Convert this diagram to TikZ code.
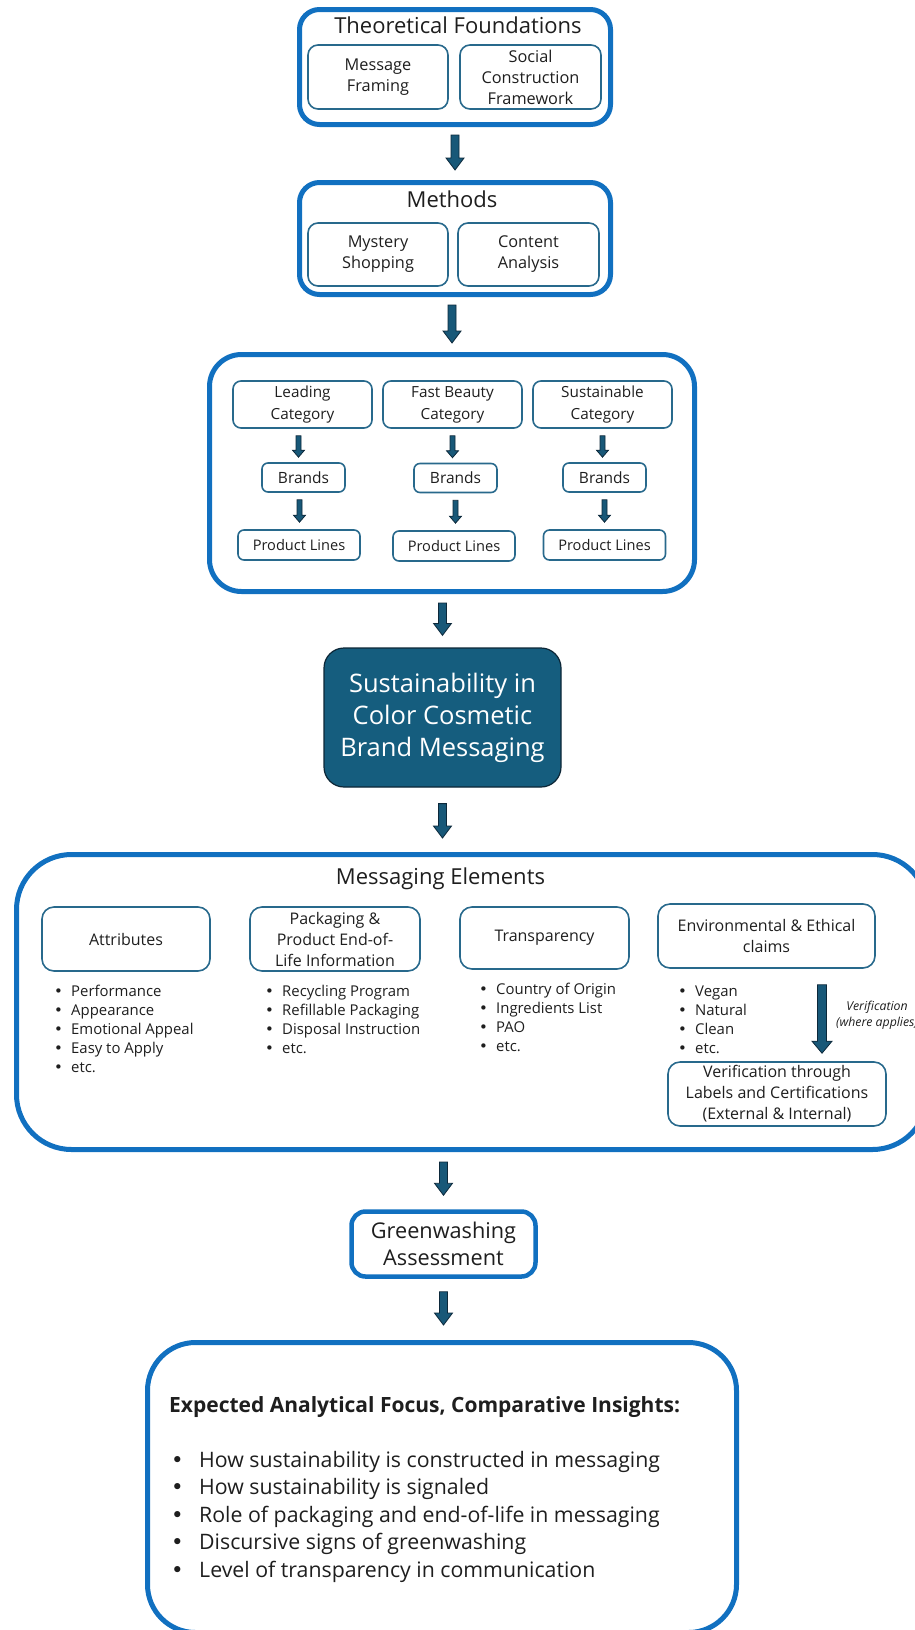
\documentclass[tikz,border=0pt]{standalone}
\usepackage{fontspec}
\setmainfont{Open Sans}
\newfontfamily\dotfont{DejaVu Sans}
\usetikzlibrary{calc}

\definecolor{outerblue}{RGB}{17,112,192}
\definecolor{innerteal}{RGB}{40,105,140}
\definecolor{darkfill}{RGB}{21,93,126}
\definecolor{darkedge}{RGB}{12,38,54}
\definecolor{arrowfill}{RGB}{24,88,120}
\definecolor{arrowedge}{RGB}{12,40,58}
\definecolor{textgray}{RGB}{30,30,30}

% bullet item with a fixed indent
\newcommand{\itm}[2][17pt]{\makebox[#1][l]{\dotfont •}#2}

\tikzset{
  boxsize/.style 2 args={minimum width=#1pt, minimum height=#2pt},
  outerbox/.style={draw=outerblue, line width=5pt, rounded corners=20pt, inner sep=0pt},
  innerbox/.style={draw=innerteal, line width=1.6pt, rounded corners=10pt, inner sep=1pt,
    align=center, font=\fontsize{16.3}{21}\selectfont},
  catbox/.style={innerbox, boxsize={139}{47}, rounded corners=8pt, font=\fontsize{15.3}{22}\selectfont},
  brandbox/.style={innerbox, boxsize={83}{29}, rounded corners=6pt, font=\fontsize{15.5}{19}\selectfont},
  linebox/.style={innerbox, boxsize={122}{30}, rounded corners=6pt, font=\fontsize{14.6}{18}\selectfont},
  elembox/.style={innerbox, rounded corners=12pt, font=\fontsize{16}{21}\selectfont},
  darkbox/.style={draw=darkedge, fill=darkfill, line width=1.2pt, rounded corners=20pt,
    text=white, align=center, font=\fontsize{25.5}{32}\selectfont},
  titletext/.style={anchor=base, inner sep=0pt, font=\fontsize{22}{25}\selectfont},
  bulletlist/.style={anchor=base west, inner sep=0pt, font=\fontsize{14.9}{19}\selectfont},
  vnote/.style={align=center, inner sep=0pt, font=\fontsize{12.3}{16}\selectfont\itshape},
  % block arrow pointing down: shaft half width, head half width, head length
  blockarrow/.style n args={3}{draw=arrowedge, fill=arrowfill, line width=0.8pt,
    to path={let \p1=(\tikztostart), \p2=(\tikztotarget) in
      (\x1-#1,\y1) -- (\x1+#1,\y1) -- (\x1+#1,\y2+#3) -- (\x1+#2,\y2+#3)
      -- (\x1,\y2) -- (\x1-#2,\y2+#3) -- (\x1-#1,\y2+#3) -- cycle}},
  bigarrow/.style={blockarrow={4pt}{9pt}{12pt}},
  smallarrow/.style={blockarrow={2.5pt}{6pt}{7pt}}
}

\begin{document}
\begin{tikzpicture}[x=1pt, y=-1pt, text=textgray]
\useasboundingbox (0,0) rectangle (915,1630);

% theoretical foundations
\node[outerbox, boxsize={311}{115}] (tf) at (455,67) {};
\node[titletext] (tftitle) at (458,33) {Theoretical Foundations};
\node[innerbox, boxsize={140}{64}] (mf) at (378,77) {Message\\Framing};
\node[innerbox, boxsize={141}{64}] (scf) at (530.5,77) {Social\\Construction\\Framework};

% methods
\node[outerbox, boxsize={311}{112}] (meth) at (455,238.5) {};
\node[titletext] (methtitle) at (452,207) {Methods};
\node[innerbox, boxsize={140}{63}] (ms) at (378,254.5) {Mystery\\Shopping};
\node[innerbox, boxsize={141}{63}] (ca) at (528.5,254.5) {Content\\Analysis};

% brand categories
\node[outerbox, rounded corners=32pt, boxsize={485}{237}] (cat) at (452,473) {};
\node[catbox] (lc) at (302.5,404.5) {Leading\\Category};
\node[catbox] (fb) at (452.5,404.5) {Fast Beauty\\Category};
\node[catbox] (sc) at (602.5,404.5) {Sustainable\\Category};
\node[brandbox] (br1) at (303.5,477.5) {Brands};
\node[brandbox] (br2) at (455.5,478) {Brands};
\node[brandbox] (br3) at (604.5,477.5) {Brands};
\node[linebox] (pl1) at (299,545) {Product Lines};
\node[linebox] (pl2) at (454,546) {Product Lines};
\node[linebox] (pl3) at (604.5,545) {Product Lines};

% central topic
\node[darkbox, boxsize={237}{139}] (sus) at (442.5,717.5) {Sustainability in\\Color Cosmetic\\Brand Messaging};

% messaging elements
\node[outerbox, rounded corners=55pt, boxsize={911}{295}] (me) at (472,1002) {};
\node[titletext] (metitle) at (440.5,884) {Messaging Elements};
\node[elembox, boxsize={168}{64}] (att) at (126,939) {Attributes};
\node[elembox, boxsize={170}{64}] (pkg) at (335,939) {Packaging \&\\Product End-of-\\Life Information};
\node[elembox, boxsize={169}{62}] (trn) at (544.5,938) {Transparency};
\node[elembox, boxsize={217}{64}] (env) at (766.5,936) {Environmental \& Ethical\\claims};
\node[elembox, boxsize={218}{64}] (ver) at (777,1094) {Verification through\\Labels and Certifications\\(External \& Internal)};

\node[bulletlist] (attlist) at (54,996) {\begin{tabular}[t]{@{}l@{}}
  \itm{Performance}\\ \itm{Appearance}\\ \itm{Emotional Appeal}\\ \itm{Easy to Apply}\\ \itm{etc.}
  \end{tabular}};
\node[bulletlist] (pkglist) at (265,996) {\begin{tabular}[t]{@{}l@{}}
  \itm{Recycling Program}\\ \itm{Refillable Packaging}\\ \itm{Disposal Instruction}\\ \itm{etc.}
  \end{tabular}};
\node[bulletlist] (trnlist) at (479,994) {\begin{tabular}[t]{@{}l@{}}
  \itm{Country of Origin}\\ \itm{Ingredients List}\\ \itm{PAO}\\ \itm{etc.}
  \end{tabular}};
\node[bulletlist] (envlist) at (678,996) {\begin{tabular}[t]{@{}l@{}}
  \itm{Vegan}\\ \itm{Natural}\\ \itm{Clean}\\ \itm{etc.}
  \end{tabular}};
\node[vnote] (vlab) at (877,1015) {Verification\\(where applies)};

% assessment and focus
\node[outerbox, line width=4.5pt, rounded corners=14pt, boxsize={184}{65}, align=center,
  font=\fontsize{21.7}{27}\selectfont] (gw) at (443.5,1244) {Greenwashing\\Assessment};
\node[outerbox, rounded corners=48pt, boxsize={589}{290}] (focus) at (442,1487.5) {};
\node[anchor=base west, inner sep=0pt, font=\fontsize{21.3}{27.5}\selectfont] (foclist) at (169,1412) {%
  \begin{tabular}[t]{@{}l@{}}
  {\fontsize{21}{27.5}\selectfont\bfseries Expected Analytical Focus, Comparative Insights:}\\ \\
  \hspace{2pt}\itm[28pt]{How sustainability is constructed in messaging}\\
  \hspace{2pt}\itm[28pt]{How sustainability is signaled}\\
  \hspace{2pt}\itm[28pt]{Role of packaging and end-of-life in messaging}\\
  \hspace{2pt}\itm[28pt]{Discursive signs of greenwashing}\\
  \hspace{2pt}\itm[28pt]{Level of transparency in communication}
  \end{tabular}};

% arrows
\draw[bigarrow] ([yshift=-8pt]tf.south) to ([yshift=10pt]meth.north);
\draw[bigarrow] ([yshift=-8pt]meth.south -| cat.north) to ([yshift=9pt]cat.north);
\draw[smallarrow] ([xshift=-4pt,yshift=-7pt]lc.south) to ([yshift=5pt]br1.north);
\draw[smallarrow] ([yshift=-7pt]fb.south) to ([yshift=5pt]br2.north);
\draw[smallarrow] ([yshift=-7pt]sc.south) to ([yshift=5pt]br3.north);
\draw[smallarrow] ([xshift=-4pt,yshift=-7pt]br1.south) to ([yshift=7pt]pl1.north);
\draw[smallarrow] ([yshift=-7pt]br2.south) to ([yshift=7pt]pl2.north);
\draw[smallarrow] ([yshift=-7pt]br3.south) to ([yshift=7pt]pl3.north);
\draw[bigarrow] ([yshift=-9pt]cat.south -| sus.north) to ([yshift=12pt]sus.north);
\draw[bigarrow] ([yshift=-16pt]sus.south) to ([yshift=14pt]me.north);
\draw[blockarrow={4.5pt}{10pt}{12pt}] ([xshift=55.5pt,yshift=-16pt]env.south) to ([yshift=8pt]ver.north);
\draw[bigarrow] ([yshift=-10pt]me.south -| gw.north) to ([yshift=14pt]gw.north);
\draw[bigarrow] ([yshift=-13pt]gw.south) to ([yshift=15pt]focus.north);
\end{tikzpicture}
\end{document}
